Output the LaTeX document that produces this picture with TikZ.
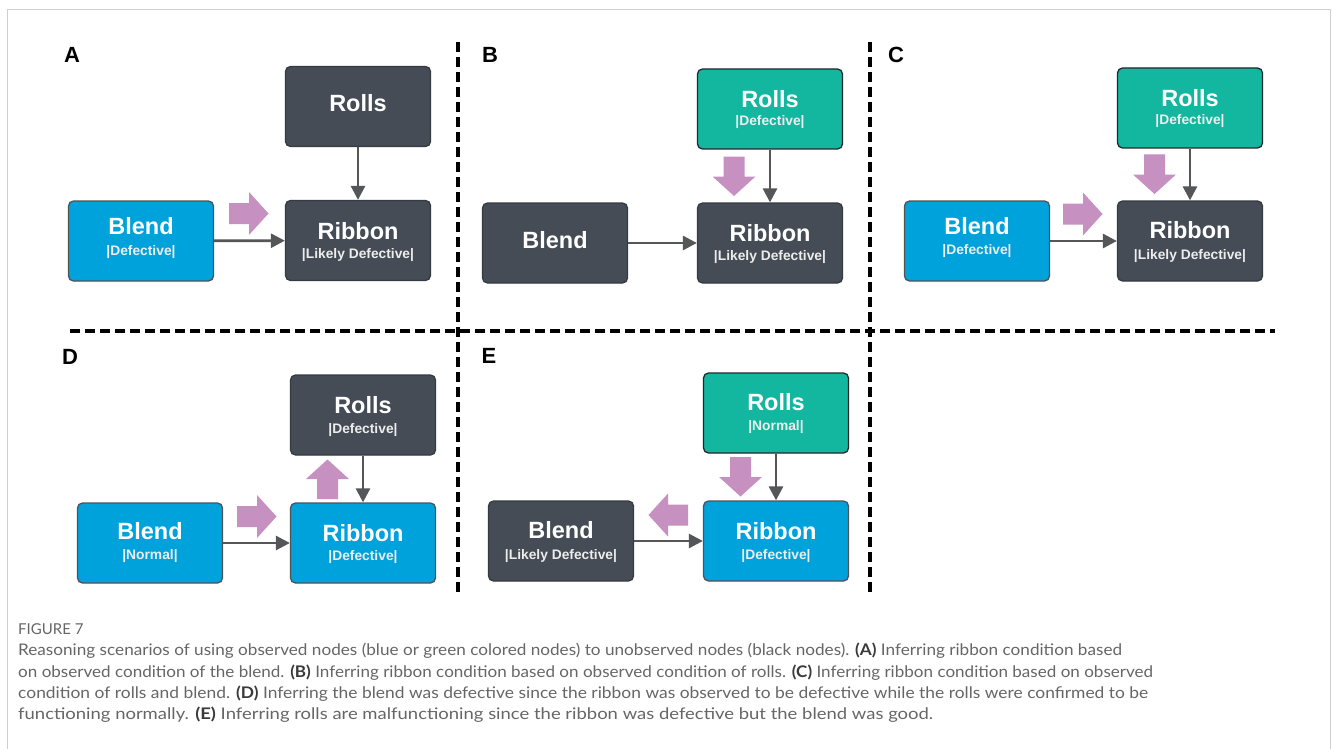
\documentclass[tikz,border=0pt]{standalone}
\usepackage{graphicx}
\usepackage{fontspec}
\setmainfont{Liberation Sans}
\newfontfamily\capfont{Lato}
\usetikzlibrary{arrows.meta,calc}

\definecolor{nodedark}{HTML}{454C55}
\definecolor{nodedarkline}{HTML}{363B42}
\definecolor{nodeblue}{HTML}{00A2DC}
\definecolor{nodeblueline}{HTML}{4E5358}
\definecolor{nodegreen}{HTML}{13B7A0}
\definecolor{nodegreenline}{HTML}{1E2A2A}
\definecolor{linkgray}{HTML}{555658}
\definecolor{inferpink}{HTML}{C690C1}
\definecolor{capgray}{HTML}{666666}
\definecolor{capbold}{HTML}{3A3A3A}
\definecolor{framegray}{HTML}{CFCFCF}

% title and status line inside a box: name, title, status, title offset, status offset
\newcommand\boxlabels[5]{%
  \node[ttl] (#1-t) at ($(#1.center)+(0,#4)$) {#2};
  \node[sub] (#1-s) at ($(#1.center)+(0,#5)$) {#3};}
% one-line box title
\newcommand\boxtitle[3]{%
  \node[ttl] (#1-t) at ($(#1.center)+(0,#3)$) {#2};}
% pink inference arrow: centre x, centre y, direction angle
\newcommand\infer[3]{%
  \fill[inferpink, shift={(#1,#2)}, rotate=#3]
    (-20,-10.5) -- (0,-10.5) -- (0,-21.5) -- (19.5,0) -- (0,21.5) -- (0,10.5) -- (-20,10.5) -- cycle;}

\begin{document}
\begin{tikzpicture}[x=1pt,y=-1pt,
  box/.style={rectangle, rounded corners=5pt, minimum width=145pt, minimum height=80pt,
              line width=1.3pt, inner sep=0pt},
  darkbox/.style={box, fill=nodedark, draw=nodedarkline},
  bluebox/.style={box, fill=nodeblue, draw=nodeblueline},
  greenbox/.style={box, fill=nodegreen, draw=nodegreenline},
  ttl/.style={text=white, font=\fontsize{23.5}{24}\selectfont\bfseries, inner sep=0pt},
  sub/.style={text=white!93!black, font=\fontsize{13.8}{15}\selectfont\bfseries, inner sep=0pt},
  link/.style={draw=linkgray, line width=2.8pt, -{Triangle[length=14pt,width=14pt]}},
  panel/.style={font=\fontsize{22}{22}\selectfont\bfseries, text=black, inner sep=0pt},
  divider/.style={draw=black, line width=3.5pt, dash pattern=on 10pt off 5pt},
  capline/.style={text=capgray, font=\capfont\fontsize{16}{16}\selectfont, inner sep=0pt, anchor=base west}]
\useasboundingbox (0,0) rectangle (1333,749);
\fill[white] (0,0) rectangle (1333,749);

% outer frame
\draw[framegray, line width=1pt] (7,749) -- (7,10) -- (1330,10) -- (1330,749);

% panel dividers
\draw[divider] (458,42) -- (458,595);
\draw[divider] (870,42) -- (870,595);
\draw[divider] (70,331) -- (1275,331);

% panel letters
\node[panel] (labA) at (72,55) {A};
\node[panel] (labB) at (490,55) {B};
\node[panel] (labC) at (896,55) {C};
\node[panel] (labD) at (70,357) {D};
\node[panel] (labE) at (489,356) {E};

% ---- panel A
\node[darkbox] (aRolls) at (358,106.5) {};
\node[bluebox] (aBlend) at (141,241) {};
\node[darkbox] (aRib) at (358,240.5) {};
\boxtitle{aRolls}{Rolls}{-3.5}
\boxlabels{aBlend}{Blend}{|Defective|}{-14.5}{11.5}
\boxlabels{aRib}{Ribbon}{|Likely Defective|}{-9.5}{15}
\draw[link] (aRolls) -- (aRib);
\draw[link] (aBlend) -- (aRib);
\infer{249}{213.5}{0}

% ---- panel B
\node[greenbox] (bRolls) at (770,109) {};
\node[darkbox] (bBlend) at (555,243) {};
\node[darkbox] (bRib) at (770,243) {};
\boxlabels{bRolls}{Rolls}{|Defective|}{-10}{13.5}
\boxtitle{bBlend}{Blend}{-3}
\boxlabels{bRib}{Ribbon}{|Likely Defective|}{-9.5}{14.5}
\draw[link] (bRolls) -- (bRib);
\draw[link] (bBlend) -- (bRib);
\infer{734}{176.5}{-90}

% ---- panel C
\node[greenbox] (cRolls) at (1190,108) {};
\node[bluebox] (cBlend) at (977,241) {};
\node[darkbox] (cRib) at (1190,241) {};
\boxlabels{cRolls}{Rolls}{|Defective|}{-9.5}{13}
\boxlabels{cBlend}{Blend}{|Defective|}{-15}{10.5}
\boxlabels{cRib}{Ribbon}{|Likely Defective|}{-10.5}{15}
\draw[link] (cRolls) -- (cRib);
\draw[link] (cBlend) -- (cRib);
\infer{1154.5}{174.5}{-90}
\infer{1083}{214}{0}

% ---- panel D
\node[darkbox] (dRolls) at (363,415) {};
\node[bluebox] (dBlend) at (150,543) {};
\node[bluebox] (dRib) at (363,543) {};
\boxlabels{dRolls}{Rolls}{|Defective|}{-9.5}{15.5}
\boxlabels{dBlend}{Blend}{|Normal|}{-11.5}{13.5}
\boxlabels{dRib}{Ribbon}{|Defective|}{-9.7}{13.7}
\draw[link] (dRolls) -- (dRib);
\draw[link] (dBlend) -- (dRib);
\infer{327.5}{479}{90}
\infer{257}{516.5}{0}

% ---- panel E
\node[greenbox] (eRolls) at (776,413) {};
\node[darkbox] (eBlend) at (561,541) {};
\node[bluebox] (eRib) at (776,541) {};
\boxlabels{eRolls}{Rolls}{|Normal|}{-11}{14.5}
\boxlabels{eBlend}{Blend}{|Likely Defective|}{-11}{15}
\boxlabels{eRib}{Ribbon}{|Defective|}{-9.5}{15}
\draw[link] (eRolls) -- (eRib);
\draw[link] (eBlend) -- (eRib);
\infer{740.5}{477}{-90}
\infer{668}{515}{180}

% ---- caption
\node[text=capgray, font=\capfont\fontsize{15}{15}\selectfont, inner sep=0pt, anchor=base west]
  (figno) at (18,634) {FIGURE 7};
\node[capline] (cap1) at (18,655.5) {\resizebox{1104pt}{\height}{Reasoning scenarios of using observed nodes (blue or green colored nodes) to unobserved nodes (black nodes). \textcolor{capbold}{\textbf{(A)}} Inferring ribbon condition based}};
\node[capline] (cap2) at (18,677) {\resizebox{1135pt}{\height}{on observed condition of the blend. \textcolor{capbold}{\textbf{(B)}} Inferring ribbon condition based on observed condition of rolls. \textcolor{capbold}{\textbf{(C)}} Inferring ribbon condition based on observed}};
\node[capline] (cap3) at (18,698) {\resizebox{1130pt}{\height}{condition of rolls and blend. \textcolor{capbold}{\textbf{(D)}} Inferring the blend was defective since the ribbon was observed to be defective while the rolls were confirmed to be}};
\node[capline] (cap4) at (18,719) {\resizebox{915pt}{\height}{functioning normally. \textcolor{capbold}{\textbf{(E)}} Inferring rolls are malfunctioning since the ribbon was defective but the blend was good.}};
\end{tikzpicture}
\end{document}
